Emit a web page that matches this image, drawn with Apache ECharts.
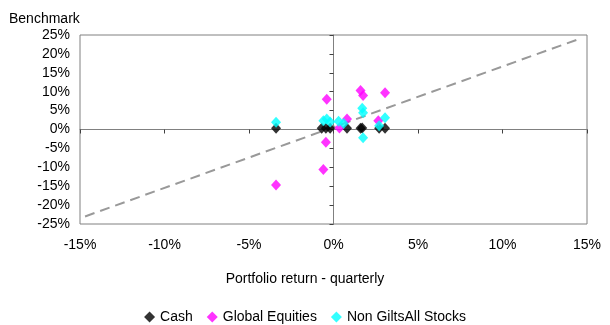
<!DOCTYPE html>
<html><head><meta charset="utf-8">
<script src="https://cdn.jsdelivr.net/npm/echarts@6/dist/echarts.min.js"></script>
<style>html,body{margin:0;padding:0;background:#fff}#c{width:610px;height:325px}</style>
</head><body><div id="c"></div>
<script>
const xTicks = [-15, -10, -5, 0, 5, 10, 15];
const yTicks = [-25, -20, -15, -10, -5, 0, 5, 10, 15, 20, 25];
const seriesNames = ['Cash', 'Global Equities', 'Non GiltsAll Stocks'];
const cash = [[-3.4,0.3],[-0.7,0.3],[-0.45,0.3],[-0.2,0.3],[0.8,0.3],[1.6,0.3],[1.7,0.4],[2.7,0.3],[3.05,0.3]];
const globalEq = [[-3.4,-14.7],[-0.4,8.0],[-0.45,-3.4],[-0.6,-10.6],[0.35,0.4],[0.8,2.8],[1.6,10.3],[1.75,9.0],[3.05,9.7],[2.65,2.3]];
const nonGilts = [[-3.4,1.9],[-0.6,2.3],[-0.4,2.8],[-0.2,2.0],[0.3,2.2],[0.6,1.6],[1.7,5.6],[1.75,4.4],[1.75,-2.2],[3.05,3.1],[2.7,1.0]];
const trend = [[-14.7,-23.0],[14.5,23.9]];
const colors = ['#000000', '#ff00ff', '#00ffff'];

const font = 'Liberation Sans';
const chart = echarts.init(document.getElementById('c'));
const pct = v => v + '%';
chart.setOption({
  animation: false,
  textStyle: {fontFamily: font},
  title: [
    {text: 'Benchmark', left: 4, top: 7, textStyle: {fontSize: 14, fontWeight: 'normal', color: '#000', fontFamily: font}},
    {text: 'Portfolio return - quarterly', left: 'center', top: 267, textStyle: {fontSize: 14, fontWeight: 'normal', color: '#000', fontFamily: font}}
  ],
  legend: {
    data: seriesNames, top: 305, left: 'center', icon: 'diamond', itemWidth: 11, itemHeight: 11, itemGap: 14,
    textStyle: {fontSize: 14, color: '#000', fontFamily: font}
  },
  grid: {left: 80, right: 23, top: 35, bottom: 101, show: true, borderColor: '#808080', borderWidth: 1},
  xAxis: [
    {type: 'value', min: xTicks[0], max: xTicks[xTicks.length-1], interval: 5, position: 'bottom',
     axisLine: {show: false, onZero: false}, axisTick: {show: false}, splitLine: {show: false},
     axisLabel: {formatter: pct, margin: 14, color: '#000', fontSize: 14, fontFamily: font}},
    {type: 'value', min: xTicks[0], max: xTicks[xTicks.length-1], interval: 5, position: 'bottom',
     axisLine: {show: true, onZero: true, onZeroAxisIndex: 1, lineStyle: {color: '#808080', width: 1}},
     axisTick: {show: true, length: 4, lineStyle: {color: '#404040'}}, axisLabel: {show: false}, splitLine: {show: false}}
  ],
  yAxis: [
    {type: 'value', min: yTicks[0], max: yTicks[yTicks.length-1], interval: 5, position: 'left',
     axisLine: {show: false, onZero: false}, axisTick: {show: false}, splitLine: {show: false},
     axisLabel: {formatter: pct, margin: 10, color: '#000', fontSize: 14, fontFamily: font}},
    {type: 'value', min: yTicks[0], max: yTicks[yTicks.length-1], interval: 5, position: 'left',
     axisLine: {show: true, onZero: true, onZeroAxisIndex: 1, lineStyle: {color: '#808080', width: 1}},
     axisTick: {show: true, length: 4, lineStyle: {color: '#404040'}}, axisLabel: {show: false}, splitLine: {show: false}}
  ],
  series: [
    {type: 'line', data: trend, symbol: 'none', silent: true, lineStyle: {color: '#999999', width: 2, type: [10, 6]}, z: 1},
    {name: seriesNames[0], type: 'scatter', data: cash, symbol: 'diamond', symbolSize: [10, 11], itemStyle: {color: colors[0]}, z: 2},
    {name: seriesNames[1], type: 'scatter', data: globalEq, symbol: 'diamond', symbolSize: [10, 11], itemStyle: {color: colors[1]}, z: 2},
    {name: seriesNames[2], type: 'scatter', data: nonGilts, symbol: 'diamond', symbolSize: [10, 11], itemStyle: {color: colors[2]}, z: 2}
  ]
});
</script></body></html>
